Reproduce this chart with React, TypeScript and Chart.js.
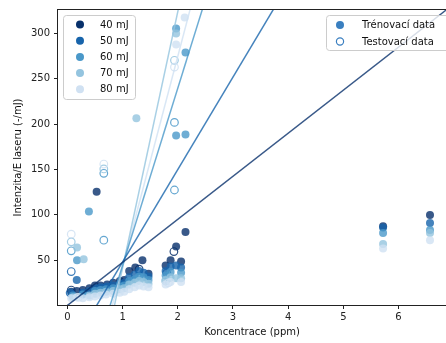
import React, { useEffect, useRef } from "react";
import { Chart, registerables } from "chart.js";

Chart.register(...registerables);

const energies = ["40 mJ", "50 mJ", "60 mJ", "70 mJ", "80 mJ"];
const energyRGB = ["8,48,107", "23,100,171", "74,152,201", "148,196,223", "208,225,242"];

const trainX40 = [0.07, 0.17, 0.28, 0.4, 0.5, 0.53, 0.6, 0.72, 0.83, 0.95, 1.03, 1.12, 1.23, 1.36, 1.47, 1.78, 1.87, 1.97, 2.06, 2.14, 5.72, 6.57];
const trainY40 = [15, 16, 17, 19, 22, 125.5, 22, 23, 25, 27, 28, 38, 42, 50, 35, 44, 50, 65, 48.5, 81, 87.5, 99.8];
const testX40 = [0.07, 1.93, 1.3];
const testY40 = [17, 59.5, 40];

const trainX50 = [0.07, 0.17, 0.28, 0.4, 0.5, 0.6, 0.72, 0.83, 0.95, 1.03, 1.12, 1.22, 1.3, 1.38, 1.47, 1.78, 1.87, 1.97, 2.06, 5.72, 6.57];
const trainY50 = [13, 28, 14, 16, 19, 20, 21, 22, 24, 25, 31, 34, 38, 36, 32, 38, 43, 44, 42, 86, 91];
const testX50 = [0.05, 0.07, 0.66, 1.8];
const testY50 = [14, 37.4, 19, 36];

const trainX60 = [0.1, 0.175, 0.28, 0.39, 0.5, 0.6, 0.7, 0.83, 0.95, 1.03, 1.12, 1.22, 1.3, 1.38, 1.47, 1.78, 1.87, 1.97, 1.97, 2.06, 2.14, 2.14, 5.72, 6.57];
const trainY60 = [11, 50, 12, 103.8, 16, 17, 18, 19, 21, 22, 27, 29, 32, 31, 28, 33, 37, 305.5, 187.5, 36, 279, 188.6, 80, 83.2];
const testX60 = [0.07, 0.66, 0.66, 1.94, 1.94, 0.9, 1.85];
const testY60 = [60.3, 72, 145.8, 202, 127.4, 18, 31];

const trainX70 = [0.1, 0.175, 0.295, 0.4, 0.5, 0.6, 0.7, 0.83, 0.95, 1.03, 1.12, 1.25, 1.22, 1.3, 1.38, 1.47, 1.78, 1.87, 1.97, 1.97, 2.06, 5.72, 6.57];
const trainY70 = [9, 64, 51, 11, 13, 14, 15, 16, 18, 19, 23, 206.6, 25, 27, 26, 24, 28, 31, 300, 30, 30, 67.7, 80];
const testX70 = [0.07, 1.94, 0.66, 1.78];
const testY70 = [70.2, 270.5, 150.6, 27];

const trainX80 = [0.07, 0.17, 0.28, 0.4, 0.5, 0.6, 0.7, 0.83, 0.95, 1.03, 1.12, 1.22, 1.3, 1.38, 1.47, 1.78, 1.87, 1.97, 2.06, 2.125, 5.72, 6.57];
const trainY80 = [8, 9, 8, 9, 10, 11, 12, 13, 14, 15, 18, 20, 22, 21, 20, 23, 26, 287.8, 26, 317.7, 62.8, 72];
const testX80 = [0.07, 0.66, 1.94, 0.2, 1.83];
const testY80 = [78.7, 156, 263, 9, 25];

// fitted lines: y = slope * (x - xIntercept)
const lineSlopes = [47.5, 102, 195.5, 282.5, 231.7];
const lineXIntercepts = [0.0, 0.53, 0.774, 0.853, 0.814];

const xTickValues = [0, 1, 2, 3, 4, 5, 6];
const yTickValues = [50, 100, 150, 200, 250, 300];
const xRange = [-0.17, 6.86];
const yRange = [0.5, 326];

const trainXs = [trainX40, trainX50, trainX60, trainX70, trainX80];
const trainYs = [trainY40, trainY50, trainY60, trainY70, trainY80];
const testXs = [testX40, testX50, testX60, testX70, testX80];
const testYs = [testY40, testY50, testY60, testY70, testY80];

const legendTrain = "Trénovací data";
const legendTest = "Testovací data";
const FONT = "DejaVu Sans";

function zip(xs: number[], ys: number[]) {
  return xs.map((x, i) => ({ x, y: ys[i] }));
}

const frameAndLegend = {
  id: "frameAndLegend",
  afterDatasetsDraw(chart: any) {
    const ctx = chart.ctx;
    const a = chart.chartArea;
    ctx.save();
    ctx.strokeStyle = "#222";
    ctx.lineWidth = 1;
    ctx.strokeRect(Math.round(a.left) - 0.5, Math.round(a.top) - 0.5, Math.round(a.right - a.left) + 1, Math.round(a.bottom - a.top) + 1);

    const box = (x: number, y: number, w: number, h: number) => {
      const r = 3;
      ctx.beginPath();
      ctx.moveTo(x + r, y);
      ctx.lineTo(x + w - r, y);
      ctx.quadraticCurveTo(x + w, y, x + w, y + r);
      ctx.lineTo(x + w, y + h - r);
      ctx.quadraticCurveTo(x + w, y + h, x + w - r, y + h);
      ctx.lineTo(x + r, y + h);
      ctx.quadraticCurveTo(x, y + h, x, y + h - r);
      ctx.lineTo(x, y + r);
      ctx.quadraticCurveTo(x, y, x + r, y);
      ctx.closePath();
      ctx.fillStyle = "rgba(255,255,255,0.8)";
      ctx.fill();
      ctx.strokeStyle = "#cccccc";
      ctx.lineWidth = 1;
      ctx.stroke();
    };

    ctx.font = `10px "${FONT}"`;
    ctx.textBaseline = "middle";
    ctx.textAlign = "left";

    // left legend
    box(63.5, 15.5, 72, 84);
    energies.forEach((lab, i) => {
      const cy = 24.5 + i * 16.2;
      ctx.beginPath();
      ctx.arc(80, cy, 4, 0, Math.PI * 2);
      ctx.fillStyle = `rgb(${energyRGB[i]})`;
      ctx.fill();
      ctx.fillStyle = "#111";
      ctx.fillText(lab, 100, cy + 0.5);
    });

    // right legend
    box(326.5, 15.5, 130, 35);
    ctx.beginPath();
    ctx.arc(340, 25, 4, 0, Math.PI * 2);
    ctx.fillStyle = "#3a7fc0";
    ctx.fill();
    ctx.fillStyle = "#111";
    ctx.fillText(legendTrain, 362, 25.5);
    ctx.beginPath();
    ctx.arc(340, 41.5, 3.6, 0, Math.PI * 2);
    ctx.strokeStyle = "#3a7fc0";
    ctx.lineWidth = 1.2;
    ctx.stroke();
    ctx.fillStyle = "#111";
    ctx.fillText(legendTest, 362, 42);
    ctx.restore();
  },
};

export default function App() {
  const ref = useRef<HTMLCanvasElement>(null);
  useEffect(() => {
    document.body.style.margin = "0";
    const datasets: any[] = [];
    lineSlopes.forEach((s, i) => {
      const x0 = lineXIntercepts[i];
      datasets.push({
        type: "line",
        data: [xRange[0], xRange[1]].map((x) => ({ x, y: s * (x - x0) })),
        borderColor: `rgba(${energyRGB[i]},0.8)`,
        borderWidth: 1.5,
        pointRadius: 0,
        fill: false,
        clip: 0,
        order: 0,
      });
    });
    energies.forEach((_, i) => {
      datasets.push({
        type: "scatter",
        data: zip(trainXs[i], trainYs[i]),
        backgroundColor: `rgba(${energyRGB[i]},0.8)`,
        borderWidth: 0,
        pointRadius: 4,
        order: 10 - i * 2,
      });
      datasets.push({
        type: "scatter",
        data: zip(testXs[i], testYs[i]),
        backgroundColor: "rgba(0,0,0,0)",
        borderColor: `rgba(${energyRGB[i]},0.85)`,
        borderWidth: 1.2,
        pointRadius: 3.8,
        order: 9 - i * 2,
      });
    });
    const tickFont = { family: FONT, size: 10 };
    const chart = new Chart(ref.current!, {
      type: "scatter",
      data: { datasets },
      plugins: [frameAndLegend],
      options: {
        animation: false,
        responsive: false,
        events: [],
        layout: { autoPadding: false, padding: { top: 10, right: 0, left: 0, bottom: 0 } },
        plugins: { legend: { display: false }, tooltip: { enabled: false } },
        scales: {
          x: {
            type: "linear",
            min: xRange[0],
            max: xRange[1],
            afterBuildTicks: (s: any) => {
              s.ticks = xTickValues.map((v) => ({ value: v }));
            },
            afterFit: (s: any) => {
              s.height = 38;
              s.paddingLeft = 0;
              s.paddingRight = 0;
            },
            ticks: { color: "#222", font: tickFont, padding: 2, callback: (v: any) => String(v) },
            grid: { display: true, drawOnChartArea: false, drawTicks: true, tickLength: 4, color: "#222" },
            border: { display: false },
            title: { display: true, text: "Koncentrace (ppm)", color: "#111", font: tickFont, padding: { top: 5, bottom: 5 } },
          },
          y: {
            type: "linear",
            min: yRange[0],
            max: yRange[1],
            afterBuildTicks: (s: any) => {
              s.ticks = yTickValues.map((v) => ({ value: v }));
            },
            afterFit: (s: any) => {
              s.width = 58;
              s.paddingTop = 0;
              s.paddingBottom = 0;
            },
            ticks: { color: "#222", font: tickFont, padding: 4, callback: (v: any) => String(v) },
            grid: { display: true, drawOnChartArea: false, drawTicks: true, tickLength: 4, color: "#222" },
            border: { display: false },
            title: { display: true, text: "Intenzita/E laseru (-/mJ)", color: "#111", font: tickFont, padding: { top: 12, bottom: 0 } },
          },
        },
      } as any,
    });
    return () => chart.destroy();
  }, []);
  return <canvas ref={ref} width={446} height={343} style={{ display: "block" }} />;
}
